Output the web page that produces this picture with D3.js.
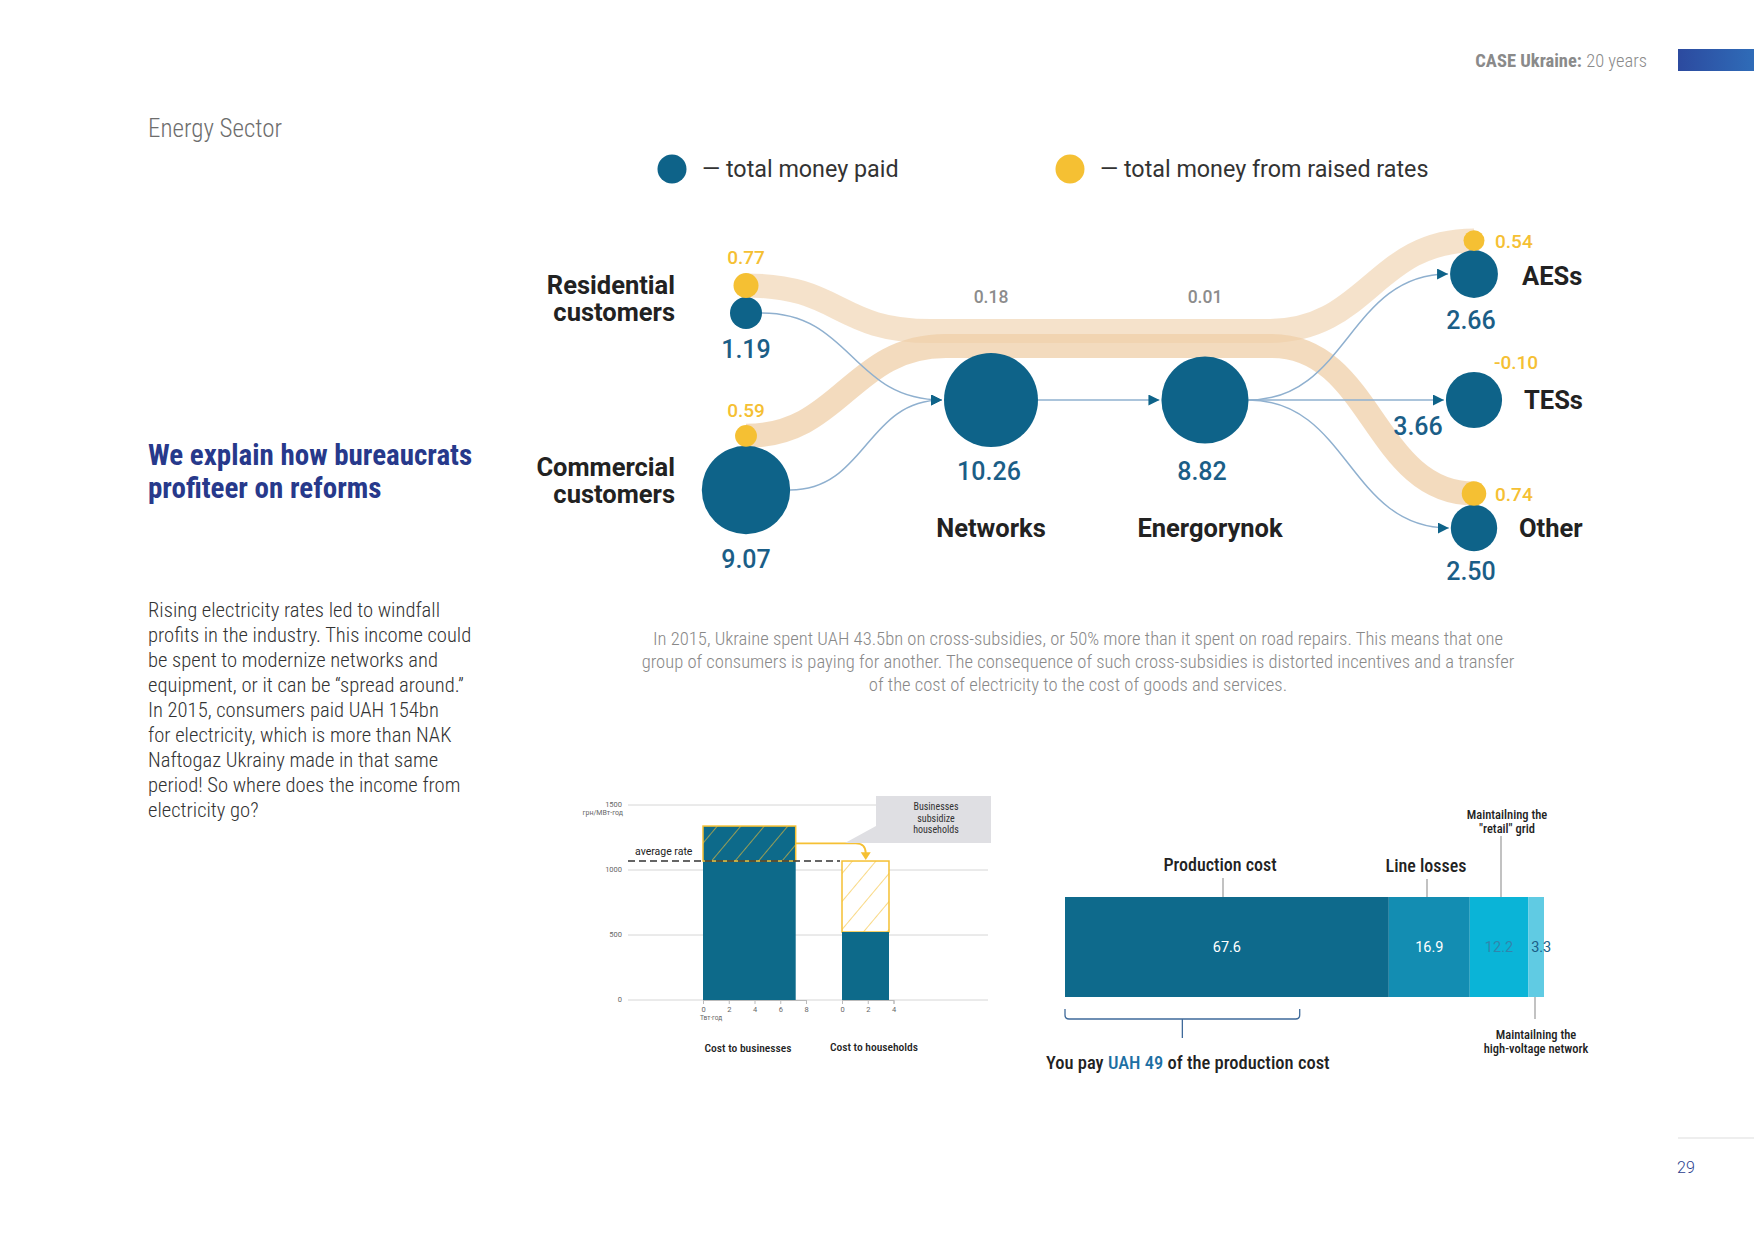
<!DOCTYPE html>
<html>
<head>
<meta charset="utf-8">
<script src="https://cdn.jsdelivr.net/npm/d3@7"></script>
<style>
  html, body { margin: 0; padding: 0; background: #fff; }
  svg { display: block; }
  text { font-family: Roboto, "Noto Sans", sans-serif; }
</style>
</head>
<body>
<svg id="page"></svg>
<script>
const W = 1754, H = 1241;

// money flow (bn UAH)
const nodeNames = ['Residential\ncustomers', 'Commercial\ncustomers', 'Networks', 'Energorynok', 'AESs', 'TESs', 'Other'];
const paidValues = [1.19, 9.07, 10.26, 8.82, 2.66, 3.66, 2.50];
const raisedValues = [0.77, 0.59, 0.18, 0.01, 0.54, -0.10, 0.74];
const paidLinks = [[0, 2], [1, 2], [2, 3], [3, 4], [3, 5], [3, 6]];
const raisedLinks = [[0, 4], [1, 6]];

// cross-subsidy bars
const rateTicks = [0, 500, 1000, 1500];
const averageRate = 1069;
const businessVolume = 7.2, businessRate = 1338;
const householdVolume = 3.65, householdRate = 523;
const businessTicks = [0, 2, 4, 6, 8];
const householdTicks = [0, 2, 4];

// price structure
const costLabels = ['Production cost', 'Line losses', 'Maintailning the\n"retail" grid', 'Maintailning the\nhigh-voltage network'];
const costValues = [67.6, 16.9, 12.2, 3.3];
const youPay = 49;

const bodyText = [
  'Rising electricity rates led to windfall',
  'profits in the industry. This income could',
  'be spent to modernize networks and',
  'equipment, or it can be \u201cspread around.\u201d',
  'In 2015, consumers paid UAH 154bn',
  'for electricity, which is more than NAK',
  'Naftogaz Ukrainy made in that same',
  'period! So where does the income from',
  'electricity go?'
];
const captionText = [
  'In 2015, Ukraine spent UAH 43.5bn on cross-subsidies, or 50% more than it spent on road repairs. This means that one',
  'group of consumers is paying for another. The consequence of such cross-subsidies is distorted incentives and a transfer',
  'of the cost of electricity to the cost of goods and services.'
];

const BLUE = '#0e6389', YELLOW = '#f5c033', BAND = '#efcfa8', THIN = '#8fb0cf';
const NARROW = '"Roboto Condensed", "Liberation Sans Narrow", "DejaVu Sans Condensed", Roboto, sans-serif';

const svg = d3.select('#page').attr('width', W).attr('height', H);
const defs = svg.append('defs');

// ---------- page furniture ----------
const grad = defs.append('linearGradient').attr('id', 'hdr');
grad.append('stop').attr('offset', 0).attr('stop-color', '#2c4a9f');
grad.append('stop').attr('offset', 1).attr('stop-color', '#2f6cb8');
svg.append('rect').attr('x', 1678).attr('y', 49).attr('width', 76).attr('height', 22).attr('fill', 'url(#hdr)');

const hdr = svg.append('text').attr('x', 1647).attr('y', 67).attr('text-anchor', 'end')
  .attr('font-size', 18.5).attr('fill', '#8a8a8a').style('font-family', NARROW);
hdr.append('tspan').attr('font-weight', 700).text('CASE Ukraine: ');
hdr.append('tspan').attr('font-weight', 300).text('20 years');

svg.append('text').attr('x', 148).attr('y', 137).attr('font-size', 25).attr('font-weight', 300)
  .attr('fill', '#6d6d6d').style('font-family', NARROW).text('Energy Sector');

svg.append('text').attr('x', 148).attr('font-size', 29).attr('font-weight', 700).attr('fill', '#27398b')
  .style('font-family', NARROW)
  .selectAll('tspan').data(['We explain how bureaucrats', 'profiteer on reforms']).join('tspan')
  .attr('x', 148).attr('y', (d, i) => 465 + i * 33).text(d => d);

svg.append('text').attr('font-size', 20.6).attr('font-weight', 300).attr('fill', '#333')
  .style('font-family', NARROW)
  .selectAll('tspan').data(bodyText).join('tspan')
  .attr('x', 148).attr('y', (d, i) => 617 + i * 25).text(d => d);

svg.append('text').attr('font-size', 18.6).attr('font-weight', 300).attr('fill', '#888')
  .attr('text-anchor', 'middle').style('font-family', NARROW)
  .selectAll('tspan').data(captionText).join('tspan')
  .attr('x', 1078).attr('y', (d, i) => 645 + i * 23).text(d => d);

svg.append('line').attr('x1', 1678).attr('x2', 1754).attr('y1', 1138).attr('y2', 1138)
  .attr('stroke', '#ddd').attr('stroke-width', 1);
svg.append('text').attr('x', 1677).attr('y', 1173).attr('font-size', 16).attr('fill', '#2d3f8f')
  .attr('font-weight', 300).text('29');

// ---------- legend ----------
const legend = svg.append('g').attr('class', 'legend');
[[672, BLUE, '\u2014 total money paid'], [1070, YELLOW, '\u2014 total money from raised rates']]
  .forEach(([x, c, t]) => {
    legend.append('circle').attr('cx', x).attr('cy', 169).attr('r', 14.5).attr('fill', c);
    legend.append('text').attr('x', x + 30).attr('y', 177).attr('font-size', 23.3).attr('font-weight', 400)
      .attr('fill', '#333').text(t);
  });

// ---------- flow diagram ----------
const colX = d3.scaleOrdinal().domain([0, 1, 2, 3]).range([746, 991, 1205, 1474]);
const nodeCol = [0, 0, 1, 2, 3, 3, 3];
const nodeY = [313, 490, 400, 400, 274, 400, 528];
const rPaid = d3.scaleSqrt().domain([0, d3.max(paidValues)]).range([0, 47]);
const rRaised = d3.scaleSqrt().domain([0, d3.max(raisedValues)]).range([0, 12.5]);

const nodes = nodeNames.map((name, i) => ({
  name, paid: paidValues[i], raised: raisedValues[i],
  x: colX(nodeCol[i]), y: nodeY[i], r: rPaid(paidValues[i])
}));
// raised-rate dots sit on top of the paid circle
nodes.forEach(n => { n.ry = rRaised(Math.abs(n.raised)); n.yy = n.y - n.r - n.ry + 1; });

const flow = svg.append('g').attr('class', 'flow');

// beige bands for the money from raised rates
const bandTrunk = [[931, 1268, 331], [946, 1272, 346]];
raisedLinks.forEach(([s, t], i) => {
  const a = nodes[s], b = nodes[t];
  const [x0, x1, yMid] = bandTrunk[i];
  const p = d3.path();
  p.moveTo(a.x, a.yy);
  p.bezierCurveTo(a.x + 95, a.yy, x0 - 95, yMid, x0, yMid);
  p.lineTo(x1, yMid);
  p.bezierCurveTo(x1 + 100, yMid, b.x - 100, b.yy, b.x, b.yy);
  flow.append('path').attr('d', p.toString()).attr('fill', 'none')
    .attr('stroke', BAND).attr('stroke-opacity', i === 0 ? 0.6 : 0.75).attr('stroke-width', 24);
});

// thin lines for the total money paid
defs.append('marker').attr('id', 'arr').attr('viewBox', '0 0 10 10').attr('refX', 10).attr('refY', 5)
  .attr('markerWidth', 11).attr('markerHeight', 11).attr('markerUnits', 'userSpaceOnUse').attr('orient', 'auto')
  .append('path').attr('d', 'M0,0L10,5L0,10Z').attr('fill', BLUE);

paidLinks.forEach(([s, t]) => {
  const a = nodes[s], b = nodes[t];
  const x0 = a.x + a.r, x1 = b.x - b.r - 2;
  const mx = (x0 + x1) / 2;
  const p = d3.path();
  p.moveTo(x0, a.y);
  p.bezierCurveTo(mx, a.y, mx, b.y, x1, b.y);
  flow.append('path').attr('d', p.toString()).attr('fill', 'none').attr('stroke', THIN)
    .attr('stroke-width', 1.5).attr('marker-end', 'url(#arr)');
});

flow.selectAll('circle.paid').data(nodes).join('circle').attr('class', 'paid')
  .attr('cx', d => d.x).attr('cy', d => d.y).attr('r', d => d.r).attr('fill', BLUE);
flow.selectAll('circle.raised').data(nodes.filter(n => n.x === colX(0) || n.x === colX(3) && n.raised > 0))
  .join('circle').attr('class', 'raised')
  .attr('cx', d => d.x).attr('cy', d => d.yy).attr('r', d => d.ry).attr('fill', YELLOW);

// labels
const fmt = v => v.toFixed(2);
// [paid label dx, dy, raised label dx, dy, raised anchor]
const labelPos = [
  [0, 45, 0, -28, 'middle'], [0, 78, 0, -26, 'middle'],
  [-2, 80, 0, -97, 'middle'], [-3, 80, 0, -97, 'middle'],
  [-3, 55, 21, 0, 'start'], [-56, 35, 20, -31, 'start'], [-3, 52, 21, 0, 'start']
];
nodes.forEach((n, i) => {
  const [pdx, pdy, rdx, rdy, ranch] = labelPos[i];
  flow.append('text').attr('x', n.x + pdx).attr('y', n.y + pdy).attr('text-anchor', 'middle')
    .attr('font-size', 25).attr('fill', '#1b5e87').attr('font-weight', 500).text(fmt(n.paid));
  const ry = (i < 2 || i === 4 || i === 6) ? n.yy + rdy + 7 : n.y + rdy;
  flow.append('text').attr('x', n.x + rdx).attr('y', ry).attr('text-anchor', ranch)
    .attr('font-size', (i === 2 || i === 3) ? 17.5 : 19).attr('font-weight', 500)
    .attr('fill', (i === 2 || i === 3) ? '#8c8c8c' : YELLOW).text(fmt(n.raised));
});

// node names
const namePos = [[675, 286, 'end'], [675, 468, 'end'], [991, 529, 'middle'], [1210, 529, 'middle'],
  [1522, 277, 'start'], [1524, 401, 'start'], [1519, 529, 'start']];
nodes.forEach((n, i) => {
  const [x, y, anchor] = namePos[i];
  flow.append('text').attr('text-anchor', anchor).attr('font-size', 25.5).attr('font-weight', 700)
    .attr('fill', '#222')
    .selectAll('tspan').data(n.name.split('\n')).join('tspan')
    .attr('x', x).attr('y', (d, j) => y + 8 + j * 27).text(d => d);
});

// ---------- cross-subsidy chart ----------
const bars = svg.append('g').attr('class', 'subsidy');
const yRate = d3.scaleLinear().domain([0, 1500]).range([1000, 805]);
const xBiz = d3.scaleLinear().domain([0, 8]).range([703, 806]);
const xHome = d3.scaleLinear().domain([0, 4]).range([842, 893.5]);

bars.selectAll('line.grid').data(rateTicks).join('line').attr('class', 'grid')
  .attr('x1', 628).attr('x2', 988).attr('y1', d => yRate(d)).attr('y2', d => yRate(d))
  .attr('stroke', '#d6d6d6').attr('stroke-width', 1);
bars.selectAll('text.yt').data(rateTicks).join('text').attr('class', 'yt')
  .attr('x', 622).attr('y', d => yRate(d) + 2).attr('text-anchor', 'end')
  .attr('font-size', 7.5).attr('fill', '#666').text(d => d);
bars.append('text').attr('x', 623).attr('y', yRate(1500) + 10).attr('text-anchor', 'end')
  .attr('font-size', 7).attr('fill', '#666').text('грн/МВт-год');

const hatch = (id, bg) => {
  const pt = defs.append('pattern').attr('id', id).attr('patternUnits', 'userSpaceOnUse')
    .attr('width', 18).attr('height', 18).attr('patternTransform', 'rotate(40)');
  pt.append('rect').attr('width', 18).attr('height', 18).attr('fill', bg);
  pt.append('line').attr('x1', 0).attr('x2', 0).attr('y1', 0).attr('y2', 18)
    .attr('stroke', YELLOW).attr('stroke-width', 1.2);
};
hatch('hatchDark', '#0d6a8a');
hatch('hatchLight', '#fff');

// businesses
bars.append('rect').attr('x', xBiz(0)).attr('width', xBiz(businessVolume) - xBiz(0))
  .attr('y', yRate(averageRate)).attr('height', yRate(0) - yRate(averageRate)).attr('fill', '#0d6a8a');
bars.append('rect').attr('x', xBiz(0)).attr('width', xBiz(businessVolume) - xBiz(0))
  .attr('y', yRate(businessRate)).attr('height', yRate(averageRate) - yRate(businessRate))
  .attr('fill', 'url(#hatchDark)').attr('stroke', YELLOW).attr('stroke-width', 1.5);
// households
bars.append('rect').attr('x', xHome(0)).attr('width', xHome(householdVolume) - xHome(0))
  .attr('y', yRate(averageRate)).attr('height', yRate(householdRate) - yRate(averageRate))
  .attr('fill', 'url(#hatchLight)').attr('stroke', YELLOW).attr('stroke-width', 1.5);
bars.append('rect').attr('x', xHome(0)).attr('width', xHome(householdVolume) - xHome(0))
  .attr('y', yRate(householdRate)).attr('height', yRate(0) - yRate(householdRate)).attr('fill', '#0d6a8a');

// average rate
bars.append('line').attr('x1', 628).attr('x2', 840).attr('y1', yRate(averageRate)).attr('y2', yRate(averageRate))
  .attr('stroke', '#333').attr('stroke-width', 1.5).attr('stroke-dasharray', '7,4');
bars.append('text').attr('x', 635).attr('y', yRate(averageRate) - 6).attr('font-size', 10.5)
  .attr('fill', '#222').text('average rate');

// x axes
bars.append('g').attr('transform', `translate(0,${yRate(0)})`)
  .call(d3.axisBottom(xBiz).tickValues(businessTicks).tickSize(4).tickFormat(d3.format('d')))
  .call(g => g.select('.domain').attr('stroke', '#bbb'))
  .call(g => g.selectAll('.tick line').attr('stroke', '#bbb'))
  .call(g => g.selectAll('text').attr('font-size', 7.5).attr('fill', '#666').attr('font-family', 'Roboto'));
bars.append('g').attr('transform', `translate(0,${yRate(0)})`)
  .call(d3.axisBottom(xHome).tickValues(householdTicks).tickSize(4).tickFormat(d3.format('d')))
  .call(g => g.select('.domain').attr('stroke', '#bbb'))
  .call(g => g.selectAll('.tick line').attr('stroke', '#bbb'))
  .call(g => g.selectAll('text').attr('font-size', 7.5).attr('fill', '#666').attr('font-family', 'Roboto'));
bars.append('text').attr('x', xBiz(0) - 3).attr('y', 1020).attr('font-size', 6.5).attr('fill', '#666').text('Твт·год');

bars.append('text').attr('x', 748).attr('y', 1052).attr('text-anchor', 'middle').attr('font-size', 11.5)
  .attr('font-weight', 500).attr('fill', '#222').style('font-family', NARROW).text('Cost to businesses');
bars.append('text').attr('x', 874).attr('y', 1051).attr('text-anchor', 'middle').attr('font-size', 11.5)
  .attr('font-weight', 500).attr('fill', '#222').style('font-family', NARROW).text('Cost to households');

// transfer arrow
const ay = yRate(1205);
const ta = d3.path();
ta.moveTo(xBiz(businessVolume), ay);
ta.lineTo(xHome(2) - 12, ay);
ta.quadraticCurveTo(xHome(2) - 2, ay, xHome(2) - 2, ay + 10);
bars.append('path').attr('d', ta.toString()).attr('fill', 'none').attr('stroke', YELLOW).attr('stroke-width', 1.8);
bars.append('path').attr('d', d3.line()([[xHome(2) - 7, ay + 9], [xHome(2) + 3, ay + 9], [xHome(2) - 2, yRate(averageRate) - 1]]))
  .attr('fill', YELLOW);

// callout
bars.append('path').attr('d', d3.line()([[876, 796], [991, 796], [991, 843], [880, 843], [845, 843], [876, 826]]))
  .attr('fill', '#dfdfe3');
bars.append('text').attr('text-anchor', 'middle').attr('font-size', 10).attr('fill', '#333')
  .style('font-family', NARROW)
  .selectAll('tspan').data(['Businesses', 'subsidize', 'households']).join('tspan')
  .attr('x', 936).attr('y', (d, i) => 810 + i * 11.5).text(d => d);

// ---------- price structure ----------
const price = svg.append('g').attr('class', 'price');
const xCost = d3.scaleLinear().domain([0, d3.sum(costValues)]).range([1065, 1544]);
const stack = d3.cumsum([0].concat(costValues));
const segs = costValues.map((v, i) => ({ v, x0: stack[i], x1: stack[i + 1], label: costLabels[i] }));
const segFill = ['#0e6a8c', '#138db2', '#0ab4d7', '#60cbe3'];
const segText = ['#fff', '#fff', '#2f86ad', '#1b5e87'];
const barTop = 897, barBot = 997;

price.selectAll('rect').data(segs).join('rect')
  .attr('x', d => xCost(d.x0)).attr('width', d => xCost(d.x1) - xCost(d.x0))
  .attr('y', barTop).attr('height', barBot - barTop).attr('fill', (d, i) => segFill[i]);
price.selectAll('text.v').data(segs).join('text').attr('class', 'v')
  .attr('x', (d, i) => i === 3 ? xCost(d.x0) + 13 : xCost((d.x0 + d.x1) / 2))
  .attr('y', 952).attr('text-anchor', 'middle').attr('font-size', 14.5)
  .attr('fill', (d, i) => segText[i]).text(d => d.v);

// leaders and labels
const leader = [
  { x: 1223, y1: 878, y2: barTop, ly: 871, size: 18 },
  { x: 1427, y1: 879, y2: barTop, ly: 872, size: 18 },
  { x: 1501, y1: 836, y2: barTop, ly: 819, size: 12.5 },
  { x: 1535, y1: barBot, y2: 1019, ly: 1039, size: 12.5 }
];
segs.forEach((d, i) => {
  const L = leader[i];
  price.append('line').attr('x1', L.x).attr('x2', L.x).attr('y1', L.y1).attr('y2', L.y2)
    .attr('stroke', '#999').attr('stroke-width', 1.2);
  const lines = d.label.split('\n');
  const lx = i === 2 ? 1507 : i === 3 ? 1536 : (i === 0 ? 1220 : 1426);
  price.append('text').attr('text-anchor', 'middle').attr('font-size', L.size)
    .attr('font-weight', 500).attr('fill', '#222').style('font-family', NARROW)
    .selectAll('tspan').data(lines).join('tspan')
    .attr('x', lx).attr('y', (t, j) => L.ly + j * 13.5).text(t => t);
});

// bracket under the part you pay
const bx0 = xCost(0), bx1 = xCost(youPay);
const br = d3.path();
br.moveTo(bx0, 1009); br.lineTo(bx0, 1015);
br.quadraticCurveTo(bx0, 1019, bx0 + 4, 1019);
br.lineTo(bx1 - 4, 1019);
br.quadraticCurveTo(bx1, 1019, bx1, 1015); br.lineTo(bx1, 1009);
br.moveTo((bx0 + bx1) / 2, 1019); br.lineTo((bx0 + bx1) / 2, 1038);
price.append('path').attr('d', br.toString()).attr('fill', 'none').attr('stroke', '#3f6a9a').attr('stroke-width', 1.3);

const yp = price.append('text').attr('x', 1046).attr('y', 1069).attr('font-size', 18.5)
  .attr('font-weight', 500).attr('fill', '#222').style('font-family', NARROW);
yp.append('tspan').text('You pay ');
yp.append('tspan').attr('fill', '#1d6fa3').text(`UAH ${youPay}`);
yp.append('tspan').text(' of the production cost');
</script>
</body>
</html>
